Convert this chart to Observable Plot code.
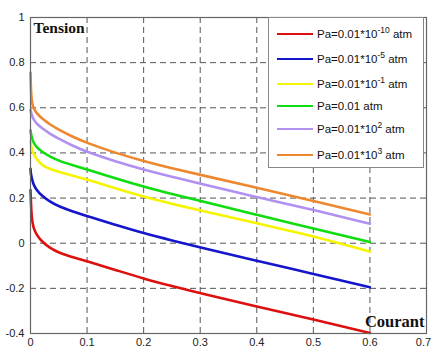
<!DOCTYPE html>
<html><head><meta charset="utf-8">
<script src="https://cdn.jsdelivr.net/npm/d3@7"></script>
<script src="https://cdn.jsdelivr.net/npm/@observablehq/plot@0.6"></script>
<style>
body{margin:0;background:#fff;}
#wrap{position:relative;width:432px;height:353px;}
#legend{position:absolute;left:268px;top:17px;width:156px;height:151px;border:1px solid #888;background:#fff;box-sizing:border-box;font-family:"Liberation Sans",Arial,sans-serif;font-size:11.5px;color:#111;}
.row{position:absolute;left:0;height:14px;display:flex;align-items:center;white-space:nowrap;}
.sw{width:36px;height:2.5px;margin-left:8px;margin-right:4px;}
sup{font-size:8.5px;line-height:0;vertical-align:5px;}
</style>
</head><body>
<div id="wrap"><div id="chart"></div><div id="legend"></div></div>
<script>
const currents = [0, 0.0005, 0.002, 0.005, 0.01, 0.02, 0.035, 0.05, 0.075, 0.1, 0.15, 0.2, 0.25, 0.3, 0.4, 0.5, 0.6];
const seriesNames = ["Pa=0.01*10^-10 atm","Pa=0.01*10^-5 atm","Pa=0.01*10^-1 atm","Pa=0.01 atm","Pa=0.01*10^2 atm","Pa=0.01*10^3 atm"];
const legendBase = ["Pa=0.01*10","Pa=0.01*10","Pa=0.01*10","Pa=0.01","Pa=0.01*10","Pa=0.01*10"];
const legendExp = ["-10","-5","-1","","2","3"];
const colors = ["#dd1010","#1515cc","#f5f500","#10dd10","#b090f0","#ee8830"];
const red    = [0.235,0.20,0.11,0.07,0.04,0.007,-0.022,-0.042,-0.062,-0.08,-0.118,-0.157,-0.19,-0.222,-0.28,-0.338,-0.398];
const blue   = [0.33,0.31,0.29,0.262,0.238,0.21,0.183,0.163,0.14,0.12,0.081,0.044,0.012,-0.018,-0.078,-0.136,-0.195];
const yellow = [0.45,0.44,0.42,0.397,0.375,0.345,0.328,0.316,0.299,0.282,0.244,0.206,0.174,0.145,0.089,0.032,-0.037];
const green  = [0.50,0.49,0.47,0.447,0.427,0.405,0.383,0.365,0.345,0.326,0.288,0.25,0.218,0.188,0.125,0.066,0.005];
const purple = [0.59,0.585,0.57,0.55,0.532,0.51,0.484,0.463,0.431,0.404,0.362,0.326,0.294,0.264,0.204,0.148,0.086];
const orange = [0.755,0.70,0.625,0.60,0.578,0.553,0.525,0.503,0.471,0.444,0.40,0.364,0.332,0.303,0.246,0.188,0.127];
const xTicks = [0,0.1,0.2,0.3,0.4,0.5,0.6,0.7];
const yTicks = [-0.4,-0.2,0,0.2,0.4,0.6,0.8,1];

const allSeries = [red, blue, yellow, green, purple, orange];
const data = [];
allSeries.forEach((vals, i) => vals.forEach((v, j) => data.push({series: seriesNames[i], x: currents[j], y: v})));

const chart = Plot.plot({
  width: 432, height: 353,
  marginLeft: 30, marginRight: 6, marginTop: 17, marginBottom: 20,
  style: {fontFamily: "'Liberation Sans', Arial, sans-serif", fontSize: "11px", color: "#222"},
  x: {domain: [0, 0.7]},
  y: {domain: [-0.4, 1]},
  color: {domain: seriesNames, range: colors},
  marks: [
    Plot.gridX(xTicks.slice(1, -1), {stroke: "#555", strokeOpacity: 1, strokeDasharray: "6,4"}),
    Plot.gridY(yTicks.slice(1, -1), {stroke: "#555", strokeOpacity: 1, strokeDasharray: "6,4"}),
    Plot.axisX(xTicks.slice(0, -1), {tickSize: 0, tickPadding: 5, tickFormat: d => String(d), fontSize: 11, label: null}),
    Plot.axisX(xTicks.slice(-1), {tickSize: 0, tickPadding: 5, tickFormat: d => String(d), fontSize: 11, label: null, dx: -3}),
    Plot.axisY(yTicks, {tickSize: 0, tickPadding: 6, tickFormat: d => String(d), fontSize: 11, label: null}),
    Plot.line(data, {x: "x", y: "y", z: "series", stroke: "series", strokeWidth: 2.6, curve: "basis"}),
    Plot.frame({stroke: "#666", strokeWidth: 1.2}),
    Plot.text(["Tension"], {frameAnchor: "top-left", textAnchor: "start", lineAnchor: "top", dx: 3, dy: 4, fontFamily: "'Liberation Serif', 'Times New Roman', serif", fontWeight: "bold", fontSize: 15.5, fill: "#111"}),
    Plot.text(["Courant"], {frameAnchor: "bottom-right", textAnchor: "end", lineAnchor: "bottom", dx: -2, dy: -7, fontFamily: "'Liberation Serif', 'Times New Roman', serif", fontWeight: "bold", fontSize: 16.5, fill: "#111"})
  ]
});
document.getElementById("chart").append(chart);

const legend = document.getElementById("legend");
const rowTops = [9, 34, 59, 81, 104, 130];
seriesNames.forEach((n, i) => {
  const row = document.createElement("div");
  row.className = "row";
  row.style.top = rowTops[i] + "px";
  const sw = document.createElement("span");
  sw.className = "sw";
  sw.style.background = colors[i];
  const txt = document.createElement("span");
  txt.innerHTML = legendBase[i] + (legendExp[i] ? "<sup>" + legendExp[i] + "</sup>" : "") + " atm";
  row.append(sw, txt);
  legend.append(row);
});
</script>
</body></html>
